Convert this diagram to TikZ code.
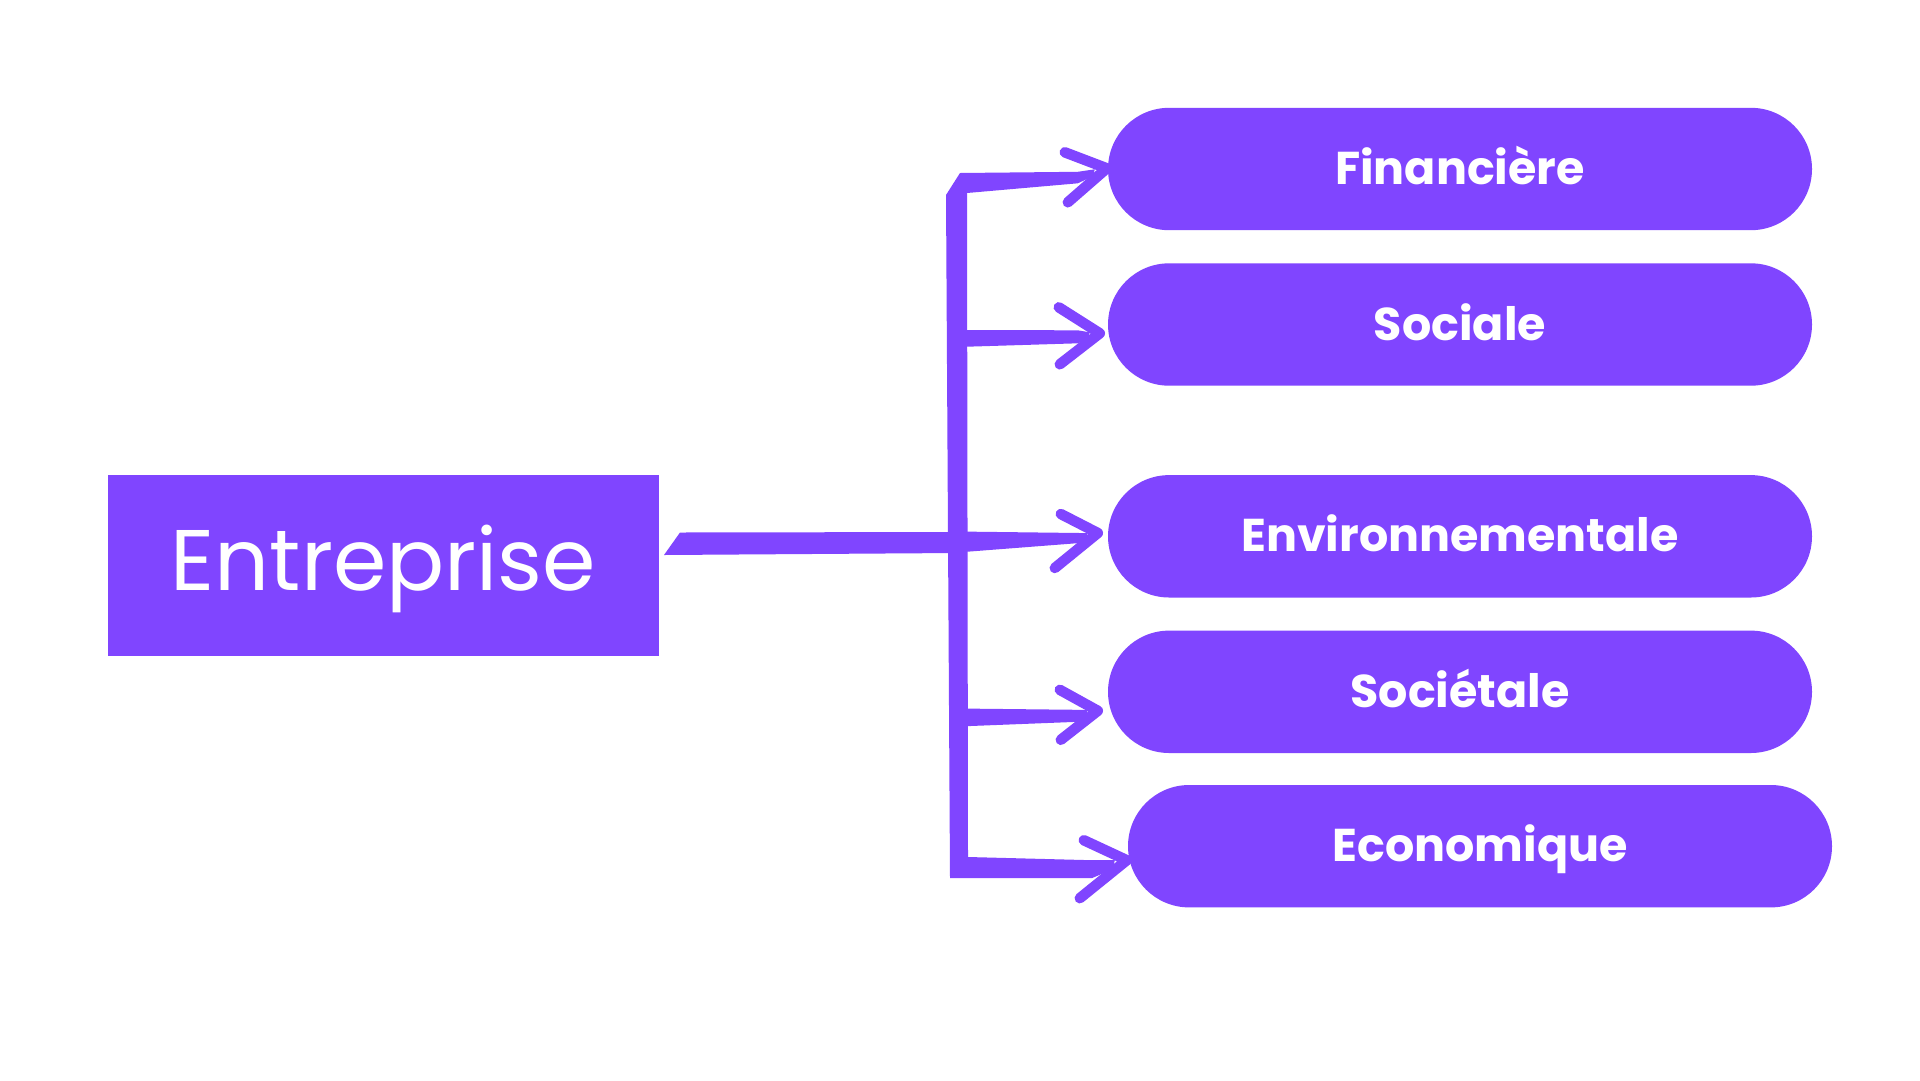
\documentclass[tikz,border=0pt]{standalone}
\usepackage{fontspec}
\setmainfont{Poppins}
\usetikzlibrary{calc}
\definecolor{vio}{RGB}{128,69,255}
\begin{document}
\begin{tikzpicture}[x=1pt,y=-1pt,
  box/.style={fill=vio, inner sep=0pt, text=white},
  pill/.style={fill=vio, minimum width=704pt, minimum height=122.4pt,
    rounded corners=61.2pt, inner sep=0pt, text=white,
    font=\fontsize{46}{46}\selectfont\bfseries, text height=31pt, text depth=0pt},
  brush/.style={fill=vio},
  chev/.style={draw=vio, line width=10.5pt, line cap=round, line join=round},
]
\fill[white] (0,0) rectangle (1920,1080);
\useasboundingbox (0,0) rectangle (1920,1080);

% nodes
\node[box, minimum width=551pt, minimum height=181.3pt,
  font=\fontsize{86}{86}\selectfont, text height=60pt, text depth=0pt]
  (ent) at (383.3,565.6) {\raisebox{5.6pt}{Entreprise}};
\node[pill] (fin) at (1460,169)   {Financière};
\node[pill] (soc) at (1460,324.5) {Sociale};
\node[pill] (env) at (1460,536.3) {Environnementale};
\node[pill] (sot) at (1460,691.8) {Sociétale};
\node[pill] (eco) at (1480,846.2) {Economique};

% junctions on the trunk
\coordinate (jT) at (956,183);
\coordinate (jS) at (957,338.5);
\coordinate (jE) at (957,542);
\coordinate (jO) at (958,717.5);
\coordinate (jB) at (959,868);

% arrow tips
\coordinate (tF) at ($(fin.west)+(-1,-0.7)$);
\coordinate (tS) at ($(soc.west)+(-8,8.8)$);
\coordinate (tE) at ($(env.west)+(-10,-3.3)$);
\coordinate (tO) at ($(sot.west)+(-10,19)$);
\coordinate (tB) at ($(eco.west)+(-1,14)$);

% main line from Entreprise to the trunk
\fill[brush] ($(ent.east |- jE)+(5,13)$) -- ($(ent.east |- jE)+(21,-9.5)$)
  -- ($(jE)+(0,-10)$) -- ($(jE)+(0,11)$) -- cycle;

% trunk with top (Financière) and bottom (Economique) branches
\fill[brush] ($(jT)+(-10,12)$) -- ($(jT)+(4,-10)$)
  -- ($(tF)+(-29,3.5)$) -- ($(tF)+(-12,1)$) -- ($(tF)+(-14,8)$) -- ($(tF)+(-29,15)$)
  -- ($(jT)+(11,10)$) -- ($(jB)+(9,-11)$)
  -- ($(tB)+(-35,0)$) -- ($(tB)+(-12,0)$) -- ($(tB)+(-14,9)$) -- ($(tB)+(-35,18)$)
  -- ($(jB)+(-9,10)$) -- cycle;

% middle branches
\fill[brush] ($(jS)+(0,-8.5)$) -- ($(tS)+(-22,-3)$) -- ($(tS)+(-10,-1)$)
  -- ($(tS)+(-12,6)$) -- ($(tS)+(-22,10)$) -- ($(jS)+(0,8.5)$) -- cycle;
\fill[brush] ($(jE)+(0,-10.5)$) -- ($(tE)+(-18,0)$) -- ($(tE)+(-10,0)$)
  -- ($(tE)+(-12,6)$) -- ($(tE)+(-18,10)$) -- ($(jE)+(0,10.5)$) -- cycle;
\fill[brush] ($(jO)+(0,-9)$) -- ($(tO)+(-20,-1)$) -- ($(tO)+(-10,-1)$)
  -- ($(tO)+(-12,6)$) -- ($(tO)+(-20,11)$) -- ($(jO)+(0,9)$) -- cycle;

% arrowheads
\draw[chev] ($(tF)+(-42,-16)$) -- (tF) -- ($(tF)+(-39,34)$);
\draw[chev] ($(tS)+(-41,-26)$) -- (tS) -- ($(tS)+(-40,31)$);
\draw[chev] ($(tE)+(-37,-19)$) -- (tE) -- ($(tE)+(-43,35)$);
\draw[chev] ($(tO)+(-38,-21)$) -- (tO) -- ($(tO)+(-37,29)$);
\draw[chev] ($(tB)+(-43,-20)$) -- (tB) -- ($(tB)+(-47,38)$);
\end{tikzpicture}
\end{document}
